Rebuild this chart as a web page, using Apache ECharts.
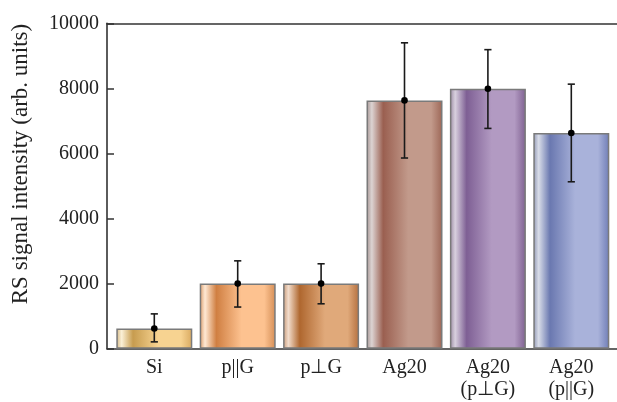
<!DOCTYPE html>
<html>
<head>
<meta charset="utf-8">
<script src="https://cdn.jsdelivr.net/npm/echarts@6/dist/echarts.min.js"></script>
<style>
  html, body { margin: 0; padding: 0; background: #fff; }
  #chart { width: 617px; height: 402px; }
</style>
</head>
<body>
<div id="chart"></div>
<script>
// values
const categories = ['Si', 'p||G', 'p⊥G', 'Ag20', 'Ag20\n(p⊥G)', 'Ag20\n(p||G)']
const intensity = [620, 2000, 2000, 7630, 7990, 6630]
const errLow = [210, 1280, 1380, 5860, 6770, 5130]
const errHigh = [1070, 2700, 2610, 9400, 9190, 8130]
const yTicks = [0, 2000, 4000, 6000, 8000, 10000]

// cylinder-like horizontal shading per bar: [edge, highlight, dark, light, rightEdge]
const barShades = [
  ['#d2b683', '#fbf0d6', '#c79c4f', '#f7d391', '#d9a95f'],
  ['#d99a68', '#ffe9d4', '#d07f42', '#fdc290', '#d48d55'],
  ['#c99a78', '#f2dccb', '#af672f', '#e0a97a', '#b46f3e'],
  ['#a49492', '#dcd3d2', '#9a5f50', '#c29a8b', '#9c6656'],
  ['#9a8aa2', '#d8d0de', '#7e5f94', '#b29ac2', '#7e6090'],
  ['#8f96b4', '#d8dce8', '#6a78b0', '#a9b2da', '#6f7db6']
]

const FONT = 'Liberation Serif'

function shade(c) {
  return {
    type: 'linear', x: 0, y: 0, x2: 1, y2: 0,
    colorStops: [
      { offset: 0, color: c[0] },
      { offset: 0.07, color: c[1] },
      { offset: 0.22, color: c[2] },
      { offset: 0.55, color: c[3] },
      { offset: 0.85, color: c[3] },
      { offset: 1, color: c[4] }
    ]
  }
}

const barData = intensity.map((v, i) => ({
  value: v,
  itemStyle: { color: shade(barShades[i]) }
}))

const errData = intensity.map((v, i) => [i, errLow[i], errHigh[i], v])

function renderErr(params, api) {
  const x = api.value(0)
  const lo = api.coord([x, api.value(1)])
  const hi = api.coord([x, api.value(2)])
  const mid = api.coord([x, api.value(3)])
  const cap = 3.6
  const style = { stroke: '#1a1a1a', lineWidth: 1.6 }
  return {
    type: 'group',
    children: [
      { type: 'line', shape: { x1: hi[0], y1: hi[1], x2: lo[0], y2: lo[1] }, style },
      { type: 'line', shape: { x1: hi[0] - cap, y1: hi[1], x2: hi[0] + cap, y2: hi[1] }, style },
      { type: 'line', shape: { x1: lo[0] - cap, y1: lo[1], x2: lo[0] + cap, y2: lo[1] }, style },
      { type: 'circle', shape: { cx: mid[0], cy: mid[1], r: 3.3 }, style: { fill: '#000' } }
    ]
  }
}

const chart = echarts.init(document.getElementById('chart'))
chart.setOption({
  animation: false,
  grid: [
    { left: 107, right: 0, top: 23.3, bottom: 53.3 },
    { left: 112.6, right: 4, top: 23.3, bottom: 53.3 }
  ],
  xAxis: [
    {
      gridIndex: 0, type: 'value', min: 0, max: 1, position: 'bottom',
      axisLine: { show: true, lineStyle: { color: '#333', width: 1.6 } },
      axisTick: { show: false }, axisLabel: { show: false }, splitLine: { show: false }
    },
    {
      gridIndex: 0, type: 'value', min: 0, max: 1, position: 'top',
      axisLine: { show: true, lineStyle: { color: '#333', width: 1.6 } },
      axisTick: { show: false }, axisLabel: { show: false }, splitLine: { show: false }
    },
    {
      gridIndex: 1, type: 'category', data: categories,
      axisLine: { show: false }, axisTick: { show: false },
      axisLabel: {
        interval: 0, margin: 8, color: '#222',
        fontFamily: FONT, fontSize: 20, lineHeight: 22
      }
    }
  ],
  yAxis: [
    {
      gridIndex: 0, type: 'value', min: 0, max: 10000, interval: 2000,
      name: 'RS signal intensity (arb. units)', nameLocation: 'middle', nameGap: 75,
      nameTextStyle: { fontFamily: FONT, fontSize: 23, color: '#222', padding: [0, 0, 0, 44] },
      axisLine: { show: true, lineStyle: { color: '#333', width: 1.6 } },
      axisTick: { show: true, inside: true, length: 7, lineStyle: { color: '#333', width: 1.5 } },
      axisLabel: {
        margin: 8, color: '#222', fontFamily: FONT, fontSize: 20,
        formatter: v => (yTicks.includes(v) ? String(v) : '')
      },
      splitLine: { show: false }
    },
    {
      gridIndex: 1, type: 'value', min: 0, max: 10000,
      show: false, splitLine: { show: false }
    }
  ],
  series: [
    {
      type: 'bar', xAxisIndex: 2, yAxisIndex: 1,
      barWidth: 76, data: barData,
      itemStyle: { borderColor: '#7a7a7a', borderWidth: 1.5 },
      z: 2
    },
    {
      type: 'custom', xAxisIndex: 2, yAxisIndex: 1,
      data: errData, renderItem: renderErr, z: 5
    }
  ]
})
</script>
</body>
</html>
